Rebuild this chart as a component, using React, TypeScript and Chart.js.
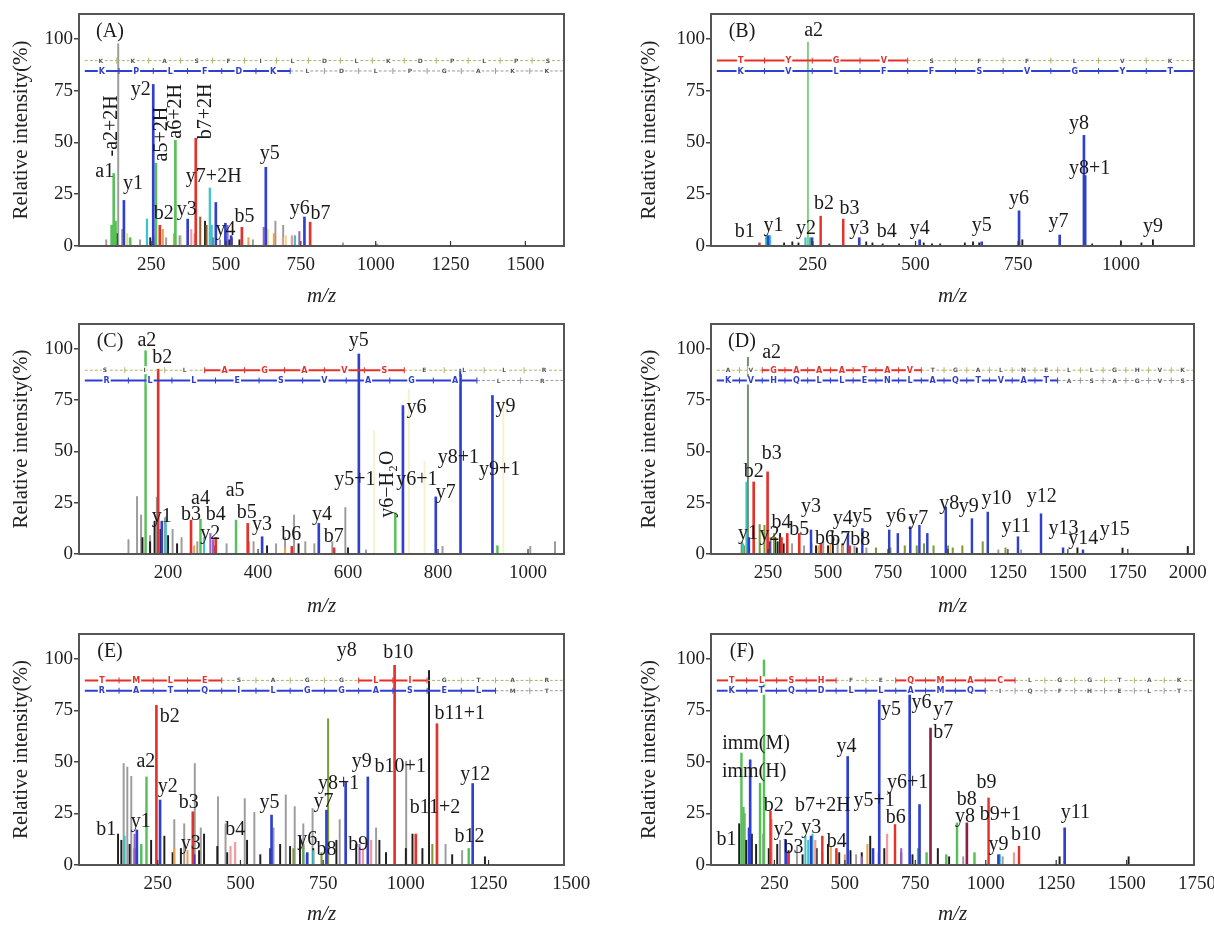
import React, { useEffect, useRef } from 'react';
import { Chart, registerables } from 'chart.js';
Chart.register(...registerables);

type Pk = [number, number];
type Lb = { t: string; x: number; y: number; r?: boolean };

const SERIF = '"Liberation Serif", "Times New Roman", serif';

const GREEN = '#58c058', RED = '#e4322b', BLUE = '#2f3fcf', BLACK = '#1e1e1e', GRAY = '#9c9c9c';
const CYAN = '#3cc4c8', PINK = '#f29a9a', ORANGE = '#e9a24f', BROWN = '#9a5a2a', PURPLE = '#9a62c2';
const YELLOW = '#e6e07a', PALE = '#f5f2cc', OLIVE = '#7f9a3a', MAROON = '#8c1f45', LGREEN = '#7fd27f';

const Y_TICKS = [0, 25, 50, 75, 100];

// ---------------- Panel A ----------------
const A_ticks = [250, 500, 750, 1000, 1250, 1500];
const A_a: Pk[] = [[118, 10], [125, 35], [131, 12], [266, 40], [331, 51], [180, 4]];
const A_b: Pk[] = [[279, 10], [399, 52], [553, 9], [781, 11.5]];
const A_y: Pk[] = [[159, 22], [257, 78], [372, 13], [466, 21], [498, 11], [517, 5], [633, 38], [762, 14]];
const A_cyan: Pk[] = [[236, 13], [446, 28], [452, 10], [730, 5]];
const A_gray: Pk[] = [[140, 97.6], [100, 3], [153, 8], [213, 3], [300, 4], [345, 5], [480, 3], [590, 3], [665, 12], [691, 10], [720, 4], [891, 1.5], [1005, 1]];
const A_black: Pk[] = [[135, 6], [247, 4], [257, 5], [430, 12], [455, 4], [510, 3], [545, 3]];
const A_orange: Pk[] = [[289, 8], [326, 6], [575, 4], [660, 6]];
const A_brown: Pk[] = [[414, 14], [435, 10], [520, 4]];
const A_yellow: Pk[] = [[170, 6], [350, 5], [640, 8], [700, 5]];
const A_pink: Pk[] = [[384, 8], [395, 6], [690, 4], [720, 5]];
const A_purple: Pk[] = [[505, 10], [626, 9], [745, 7]];
const A_labels: Lb[] = [
  { t: 'a1', x: 95, y: 35.8 }, { t: '-a2+2H', x: 118, y: 58, r: true }, { t: 'y1', x: 189, y: 30 },
  { t: 'y2', x: 215, y: 75.5 }, { t: 'a5+2H', x: 286, y: 54, r: true }, { t: 'a6+2H', x: 331, y: 65, r: true },
  { t: 'b7+2H', x: 434, y: 65, r: true }, { t: 'y7+2H', x: 459, y: 33.4 }, { t: 'b2', x: 292, y: 15.7 },
  { t: 'y3', x: 369, y: 17.3 }, { t: 'y4', x: 498, y: 7.7 }, { t: 'b5', x: 562, y: 14.1 },
  { t: 'y5', x: 646, y: 44.6 }, { t: 'y6', x: 746, y: 18.1 }, { t: 'b7', x: 816, y: 15.7 },
];
const A_seqTop = 'KKASFILDLKDPLPS', A_maskTop = '000000000000000';
const A_seqBot = 'KPLFDKLDLPGAKK', A_maskBot = '11111100000000';

// ---------------- Panel B ----------------
const B_ticks = [250, 500, 750, 1000];
const B_a: Pk[] = [[238, 98.4]];
const B_b: Pk[] = [[269, 14.4], [324, 13], [120, 1.5]];
const B_y: Pk[] = [[141, 5], [248, 4], [363, 4], [510, 3], [661, 2], [752, 17], [851, 5.3], [910, 53.4], [913, 34]];
const B_cyan: Pk[] = [[136, 5], [146, 5], [232, 4], [243, 4]];
const B_black: Pk[] = [[180, 1.5], [200, 2], [215, 1.5], [290, 1], [380, 2], [395, 1.5], [420, 1], [460, 1], [520, 1.5], [540, 1], [560, 1], [620, 1.5], [640, 2], [655, 1.5], [760, 3], [930, 1], [1000, 2.5], [1050, 1.5], [1078, 3]];
const B_labels: Lb[] = [
  { t: 'a2', x: 252, y: 104 }, { t: 'b1', x: 84, y: 7 }, { t: 'y1', x: 154, y: 10 }, { t: 'y2', x: 233, y: 8.5 },
  { t: 'b2', x: 277, y: 20.5 }, { t: 'b3', x: 339, y: 18 }, { t: 'y3', x: 363, y: 8.5 }, { t: 'b4', x: 430, y: 7 },
  { t: 'y4', x: 510, y: 8.5 }, { t: 'y5', x: 661, y: 10 }, { t: 'y6', x: 752, y: 23 }, { t: 'y7', x: 848, y: 11.7 },
  { t: 'y8', x: 898, y: 59 }, { t: 'y8+1', x: 924, y: 37.4 }, { t: 'y9', x: 1078, y: 9.3 },
];
const B_seqTop = 'TYGVSFFLVK', B_maskTop = '1111000000';
const B_seqBot = 'KVLFFSVGYT', B_maskBot = '1111111111';

// ---------------- Panel C ----------------
const C_ticks = [200, 400, 600, 800, 1000];
const C_a: Pk[] = [[150, 99], [272, 17], [351, 16.5], [705, 20], [932, 4]];
const C_b: Pk[] = [[178, 90], [251, 16.5], [306, 8], [377, 14.9], [475, 3.7], [569, 3]];
const C_y: Pk[] = [[186, 16], [409, 8.4], [535, 14.9], [624, 97.4], [722, 72.3], [795, 27.8], [850, 90], [921, 77.2]];
const C_purple: Pk[] = [[294, 10], [300, 7]];
const C_gray: Pk[] = [[112, 7], [131, 28], [140, 19], [160, 9], [175, 27.7], [193, 17.6], [210, 12], [230, 8], [265, 6], [330, 5], [390, 6], [440, 5], [460, 8], [480, 19], [505, 6], [525, 5], [565, 6], [594, 22.6], [640, 2], [810, 3.7], [1005, 3.7], [1060, 6]];
const C_black: Pk[] = [[143, 8], [160, 6], [170, 16], [183, 12], [200, 9], [220, 5], [305, 4], [420, 4], [490, 5], [600, 3]];
const C_pale: Pk[] = [[658, 60], [735, 80], [770, 45], [945, 75]];
const C_orange: Pk[] = [[258, 4], [380, 6], [460, 3]];
const C_cyan: Pk[] = [[195, 18], [280, 8]];
const C_labels: Lb[] = [
  { t: 'a2', x: 153, y: 104 }, { t: 'b2', x: 187, y: 95.5 }, { t: 'y5', x: 624, y: 104 }, { t: 'y6', x: 752, y: 71 },
  { t: 'y9', x: 950, y: 71.5 }, { t: 'y8+1', x: 845, y: 47 }, { t: 'y9+1', x: 937, y: 41 }, { t: 'y7', x: 817, y: 30 },
  { t: 'y5+1', x: 615, y: 36 }, { t: 'y6\u2212H\u2082O', x: 688, y: 34, r: true }, { t: 'y6+1', x: 753, y: 36 },
  { t: 'y1', x: 186, y: 18 }, { t: 'b3', x: 251, y: 19 }, { t: 'y2', x: 294, y: 10 }, { t: 'a4', x: 272, y: 27 },
  { t: 'b4', x: 306, y: 19 }, { t: 'a5', x: 349, y: 31 }, { t: 'b5', x: 375, y: 20 }, { t: 'y3', x: 409, y: 14.4 },
  { t: 'b6', x: 474, y: 9.2 }, { t: 'y4', x: 542, y: 19 }, { t: 'b7', x: 568, y: 8.4 },
];
const C_seqTop = 'SILAGAVSELLR', C_maskTop = '000111110000';
const C_seqBot = 'RLLESVAGALR', C_maskBot = '11111111100';

// ---------------- Panel D ----------------
const D_ticks = [250, 500, 750, 1000, 1250, 1500, 1750, 2000];
const D_tall: Pk[] = [[166, 95.8]];
const D_green: Pk[] = [[215, 14.4], [140, 6], [150, 4], [235, 14], [260, 8], [275, 10], [700, 3], [760, 3], [820, 4], [870, 4], [900, 5], [940, 4], [1000, 4], [1020, 3], [1060, 4], [1145, 6], [1240, 3]];
const D_b: Pk[] = [[190, 35.1], [248, 40], [306, 8], [330, 10], [380, 10], [470, 5], [590, 4]];
const D_y: Pk[] = [[170, 8], [256, 6], [429, 11.7], [583, 10], [643, 12.4], [755, 11.7], [791, 10], [843, 13.3], [881, 14], [914, 10], [991, 22.9], [1100, 17.2], [1166, 20.4], [1292, 8.4], [1388, 19.6], [1480, 3], [1563, 2]];
const D_black: Pk[] = [[280, 8], [290, 6], [300, 10], [315, 5], [430, 5], [450, 4], [500, 4], [520, 6], [560, 5], [620, 3], [700, 2], [1540, 3], [1728, 2.9], [2000, 3.7]];
const D_gray: Pk[] = [[350, 5], [400, 4], [480, 6], [540, 7], [610, 4], [660, 3], [1210, 2], [1305, 2]];
const D_cyan: Pk[] = [[160, 35], [145, 5]];
const D_orange: Pk[] = [[460, 4], [510, 5], [560, 4]];
const D_labels: Lb[] = [
  { t: 'a2', x: 265, y: 98 }, { t: 'b2', x: 190, y: 40 }, { t: 'b3', x: 265, y: 49 }, { t: 'y1', x: 166, y: 10 },
  { t: 'y2', x: 256, y: 9.2 }, { t: 'b4', x: 306, y: 15 }, { t: 'b5', x: 380, y: 11.7 }, { t: 'y3', x: 429, y: 23 },
  { t: 'b6', x: 487, y: 7.6 }, { t: 'y4', x: 561, y: 17.3 }, { t: 'b7b8', x: 593, y: 6.8 }, { t: 'y5', x: 643, y: 18 },
  { t: 'y6', x: 783, y: 18 }, { t: 'y7', x: 876, y: 17.3 }, { t: 'y8', x: 1005, y: 24.6 }, { t: 'y9', x: 1087, y: 22.9 },
  { t: 'y10', x: 1202, y: 27 }, { t: 'y11', x: 1284, y: 13.3 }, { t: 'y12', x: 1391, y: 27.8 }, { t: 'y13', x: 1482, y: 12.4 },
  { t: 'y14', x: 1564, y: 7.6 }, { t: 'y15', x: 1696, y: 11.7 },
];
const D_seqTop = 'AVGAAATAVTGALNELLGHVK', D_maskTop = '001111111000000000000';
const D_seqBot = 'KVHQLLENLAQTVATASAGVS', D_maskBot = '111111111111111000000';

// ---------------- Panel E ----------------
const E_ticks = [250, 500, 750, 1000, 1250, 1500];
const E_a: Pk[] = [[216, 42.7], [200, 10], [1190, 8]];
const E_olive: Pk[] = [[765, 70.9], [660, 8], [690, 10], [745, 6], [1080, 10]];
const E_b: Pk[] = [[246, 77.4], [356, 25.8], [966, 96.8], [1094, 68.5], [1030, 15]];
const E_y: Pk[] = [[187, 17], [257, 31.5], [360, 5], [594, 24.2], [702, 6], [760, 26.6], [818, 40], [885, 42.7], [1202, 39.5]];
const E_black: Pk[] = [[1070, 94.3], [130, 15], [140, 12], [165, 10], [180, 8], [230, 12], [270, 14], [295, 6], [320, 8], [375, 7], [390, 15], [430, 9], [460, 6], [520, 12], [560, 5], [590, 8], [620, 10], [650, 9], [680, 14], [720, 8], [790, 12], [850, 10], [920, 12], [940, 6], [1000, 8], [1020, 15], [1050, 8], [1140, 5], [1239, 4]];
const E_gray: Pk[] = [[147, 49.2], [158, 47.5], [170, 43], [300, 22], [330, 20], [362, 49.2], [380, 18], [432, 33.1], [455, 20], [513, 32.2], [542, 25.5], [600, 18], [637, 34], [664, 28.3], [690, 20], [718, 27.4], [800, 22], [910, 18], [1001, 50.3], [1120, 10], [1170, 7]];
const E_pink: Pk[] = [[484, 11], [470, 9], [870, 8], [895, 12]];
const E_purple: Pk[] = [[180, 15], [860, 10]];
const E_orange: Pk[] = [[300, 8], [340, 7], [700, 5]];
const E_cyan: Pk[] = [[150, 14], [200, 9], [690, 9], [720, 7]];
const E_labels: Lb[] = [
  { t: 'y8', x: 821, y: 104 }, { t: 'b10', x: 977, y: 103 }, { t: 'b11+1', x: 1163, y: 73.4 }, { t: 'b2', x: 286, y: 72 },
  { t: 'a2', x: 214, y: 50 }, { t: 'y2', x: 280, y: 38 }, { t: 'b3', x: 344, y: 30 }, { t: 'y1', x: 199, y: 21 },
  { t: 'b1', x: 94, y: 17 }, { t: 'y3', x: 350, y: 10.5 }, { t: 'b4', x: 484, y: 17 }, { t: 'y5', x: 588, y: 30 },
  { t: 'y6', x: 702, y: 12.4 }, { t: 'b8', x: 760, y: 7.3 }, { t: 'b9', x: 856, y: 9.7 }, { t: 'y7', x: 751, y: 30.7 },
  { t: 'y8+1', x: 797, y: 39.5 }, { t: 'y9', x: 867, y: 50 }, { t: 'b10+1', x: 983, y: 47.5 }, { t: 'y12', x: 1210, y: 43.6 },
  { t: 'b11+2', x: 1088, y: 27.6 }, { t: 'b12', x: 1192, y: 13.7 },
];
const E_seqTop = 'TMLESAGGLIGTAR', E_maskTop = '11110000110000';
const E_seqBot = 'RATQILGGASELMT', E_maskBot = '11111111111100';

// ---------------- Panel F ----------------
const F_ticks = [250, 500, 750, 1000, 1250, 1500, 1750];
const F_a: Pk[] = [[133, 54.3], [213, 99.4], [199, 39.7], [140, 28], [898, 20.4], [760, 8], [790, 6], [860, 5], [960, 6]];
const F_b: Pk[] = [[236, 26.1], [678, 19.6], [1010, 32.5], [1118, 9.1], [420, 14], [470, 8], [300, 6]];
const F_maroon: Pk[] = [[804, 66.4], [933, 20.4]];
const F_y: Pk[] = [[164, 51], [160, 18], [290, 12], [380, 14], [510, 52.6], [622, 80], [730, 85.7], [765, 29.3], [1280, 18], [600, 8], [1045, 5]];
const F_black: Pk[] = [[125, 20], [150, 12], [170, 15], [185, 10], [230, 8], [260, 10], [300, 7], [350, 5], [400, 8], [440, 10], [480, 6], [520, 7], [560, 6], [590, 14], [640, 8], [700, 6], [740, 5], [830, 8], [870, 4], [1262, 4], [1507, 4]];
const F_gray: Pk[] = [[145, 25], [210, 15], [270, 12], [330, 9], [420, 6], [540, 5], [620, 6], [760, 5], [920, 4], [1060, 4]];
const F_pink: Pk[] = [[240, 22], [395, 12], [650, 15], [1100, 6]];
const F_cyan: Pk[] = [[360, 14], [370, 12], [385, 15], [1050, 5]];
const F_orange: Pk[] = [[450, 9], [470, 7], [500, 5], [580, 10]];
const F_purple: Pk[] = [[560, 4], [700, 8]];
const F_labels: Lb[] = [
  { t: 'imm(M)', x: 185, y: 59 }, { t: 'imm(H)', x: 178, y: 45.4 }, { t: 'b1', x: 80, y: 12.3 }, { t: 'b2', x: 248, y: 28.5 },
  { t: 'b7+2H', x: 422, y: 28.5 }, { t: 'y2', x: 283, y: 17.2 }, { t: 'y3', x: 381, y: 18 }, { t: 'b3', x: 318, y: 8.3 },
  { t: 'b4', x: 471, y: 11.5 }, { t: 'y4', x: 506, y: 57.5 }, { t: 'y5', x: 664, y: 75.2 }, { t: 'y5+1', x: 604, y: 31.2 },
  { t: 'y6', x: 772, y: 78.5 }, { t: 'y7', x: 849, y: 75.2 }, { t: 'b7', x: 849, y: 64 }, { t: 'y6+1', x: 723, y: 39.8 },
  { t: 'b6', x: 681, y: 23 }, { t: 'b8', x: 933, y: 31.7 }, { t: 'y8', x: 926, y: 23.6 }, { t: 'b9', x: 1003, y: 39.8 },
  { t: 'b9+1', x: 1052, y: 24.2 }, { t: 'y9', x: 1045, y: 10 }, { t: 'b10', x: 1143, y: 14.8 }, { t: 'y11', x: 1318, y: 25.3 },
];
const F_seqTop = 'TLSHFEQMACLGGTAK', F_maskTop = '1111001111000000';
const F_seqBot = 'KTQDLLAMQIQFHELT', F_maskBot = '1111111110000000';

// ---------------- configuration ----------------
type Grp = { d: Pk[]; c: string; w: number };
type Panel = {
  tag: string; col: number; row: number; xMin: number; xMax: number; ticks: number[];
  groups: Grp[]; labels: Lb[]; seqTop: string; maskTop: string; seqBot: string; maskBot: string;
};

const PANELS: Panel[] = [
  {
    tag: '(A)', col: 0, row: 0, xMin: 9, xMax: 1629, ticks: A_ticks,
    groups: [{ d: A_b, c: RED, w: 2 }, { d: A_y, c: BLUE, w: 2 }, { d: A_a, c: GREEN, w: 2 }, { d: A_cyan, c: CYAN, w: 1.6 },
      { d: A_purple, c: PURPLE, w: 1.4 }, { d: A_brown, c: BROWN, w: 1.4 }, { d: A_orange, c: ORANGE, w: 1.4 },
      { d: A_pink, c: PINK, w: 1.4 }, { d: A_black, c: BLACK, w: 1.3 }, { d: A_gray, c: GRAY, w: 1.3 }, { d: A_yellow, c: YELLOW, w: 1.3 }],
    labels: A_labels, seqTop: A_seqTop, maskTop: A_maskTop, seqBot: A_seqBot, maskBot: A_maskBot,
  },
  {
    tag: '(B)', col: 1, row: 0, xMin: 2, xMax: 1178, ticks: B_ticks,
    groups: [{ d: B_b, c: RED, w: 1.8 }, { d: B_y, c: BLUE, w: 2 }, { d: B_a, c: LGREEN, w: 1.3 }, { d: B_cyan, c: CYAN, w: 1.5 },
      { d: B_black, c: BLACK, w: 1.2 }],
    labels: B_labels, seqTop: B_seqTop, maskTop: B_maskTop, seqBot: B_seqBot, maskBot: B_maskBot,
  },
  {
    tag: '(C)', col: 0, row: 1, xMin: 2, xMax: 1080, ticks: C_ticks,
    groups: [{ d: C_b, c: RED, w: 2 }, { d: C_y, c: BLUE, w: 2 }, { d: C_a, c: GREEN, w: 1.8 }, { d: C_purple, c: PURPLE, w: 1.5 },
      { d: C_cyan, c: CYAN, w: 1.4 }, { d: C_orange, c: ORANGE, w: 1.4 }, { d: C_black, c: BLACK, w: 1.3 },
      { d: C_gray, c: GRAY, w: 1.3 }, { d: C_pale, c: PALE, w: 1.3 }],
    labels: C_labels, seqTop: C_seqTop, maskTop: C_maskTop, seqBot: C_seqBot, maskBot: C_maskBot,
  },
  {
    tag: '(D)', col: 1, row: 1, xMin: 12, xMax: 2026, ticks: D_ticks,
    groups: [{ d: D_b, c: RED, w: 2 }, { d: D_y, c: BLUE, w: 1.8 }, { d: D_tall, c: '#6f8f6f', w: 1.3 }, { d: D_cyan, c: CYAN, w: 1.5 },
      { d: D_green, c: OLIVE, w: 1.4 }, { d: D_orange, c: ORANGE, w: 1.3 }, { d: D_black, c: BLACK, w: 1.3 }, { d: D_gray, c: GRAY, w: 1.3 }],
    labels: D_labels, seqTop: D_seqTop, maskTop: D_maskTop, seqBot: D_seqBot, maskBot: D_maskBot,
  },
  {
    tag: '(E)', col: 0, row: 2, xMin: 12, xMax: 1478, ticks: E_ticks,
    groups: [{ d: E_b, c: RED, w: 2 }, { d: E_y, c: BLUE, w: 2 }, { d: E_a, c: GREEN, w: 1.8 }, { d: E_olive, c: OLIVE, w: 1.4 },
      { d: E_pink, c: PINK, w: 1.5 }, { d: E_purple, c: PURPLE, w: 1.4 }, { d: E_cyan, c: CYAN, w: 1.4 }, { d: E_orange, c: ORANGE, w: 1.4 },
      { d: E_black, c: BLACK, w: 1.3 }, { d: E_gray, c: GRAY, w: 1.3 }],
    labels: E_labels, seqTop: E_seqTop, maskTop: E_maskTop, seqBot: E_seqBot, maskBot: E_maskBot,
  },
  {
    tag: '(F)', col: 1, row: 2, xMin: 25, xMax: 1739, ticks: F_ticks,
    groups: [{ d: F_maroon, c: MAROON, w: 2 }, { d: F_b, c: RED, w: 1.8 }, { d: F_y, c: BLUE, w: 2 }, { d: F_a, c: GREEN, w: 1.8 },
      { d: F_pink, c: PINK, w: 1.5 }, { d: F_cyan, c: CYAN, w: 1.4 }, { d: F_orange, c: ORANGE, w: 1.4 }, { d: F_purple, c: PURPLE, w: 1.4 },
      { d: F_black, c: BLACK, w: 1.3 }, { d: F_gray, c: GRAY, w: 1.3 }],
    labels: F_labels, seqTop: F_seqTop, maskTop: F_maskTop, seqBot: F_seqBot, maskBot: F_maskBot,
  },
];

function drawSeq(ctx: CanvasRenderingContext2D, xs: any, ys: any, seq: string, mask: string, val: number, on: string, off: string) {
  const n = seq.length;
  const lo = xs.min + (xs.max - xs.min) * 0.012;
  const hi = xs.max;
  const px = (k: number) => xs.getPixelForValue(lo + ((hi - lo) * k) / n);
  const py = ys.getPixelForValue(val);
  for (let i = 0; i < n; i++) {
    const m = mask[i] === '1';
    ctx.save();
    ctx.beginPath();
    ctx.strokeStyle = m ? on : off;
    ctx.lineWidth = m ? 2 : 1;
    ctx.setLineDash(m ? [] : [3, 2]);
    ctx.moveTo(px(i), py);
    ctx.lineTo(px(i + 1), py);
    ctx.stroke();
    ctx.restore();
  }
  for (let i = 1; i < n; i++) {
    const m = mask[i - 1] === '1' || mask[i] === '1';
    ctx.beginPath();
    ctx.strokeStyle = m ? on : off;
    ctx.lineWidth = 1;
    ctx.moveTo(px(i), py - 3);
    ctx.lineTo(px(i), py + 3);
    ctx.stroke();
  }
  ctx.textAlign = 'center';
  ctx.textBaseline = 'middle';
  for (let i = 0; i < n; i++) {
    const m = mask[i] === '1';
    ctx.font = m ? 'bold 8px "DejaVu Sans"' : 'bold 6px "DejaVu Sans"';
    const cx = px(i + 0.5);
    const w = ctx.measureText(seq[i]).width + 2;
    ctx.fillStyle = '#fff';
    ctx.fillRect(cx - w / 2, py - 4, w, 8);
    ctx.fillStyle = m ? on : '#555';
    ctx.fillText(seq[i], cx, py + 0.5);
  }
}

function makeAnnot(p: Panel) {
  return {
    id: 'msAnnot',
    afterDatasetsDraw(chart: any) {
      const { ctx, chartArea: ca } = chart;
      const xs = chart.scales.x, ys = chart.scales.y;
      ctx.save();
      drawSeq(ctx, xs, ys, p.seqTop, p.maskTop, 89.5, RED, '#b3b36a');
      drawSeq(ctx, xs, ys, p.seqBot, p.maskBot, 84.5, BLUE, '#999');
      ctx.fillStyle = '#1a1a1a';
      ctx.font = `20px ${SERIF}`;
      ctx.textAlign = 'center';
      ctx.textBaseline = 'middle';
      for (const l of p.labels) {
        const lx = xs.getPixelForValue(l.x), ly = ys.getPixelForValue(l.y);
        if (l.r) {
          ctx.save();
          ctx.translate(lx, ly);
          ctx.rotate(-Math.PI / 2);
          ctx.fillText(l.t, 0, 0);
          ctx.restore();
        } else {
          ctx.fillText(l.t, lx, ly);
        }
      }
      ctx.fillText(p.tag, ca.left + 31, ca.top + 18);
      ctx.strokeStyle = '#555';
      ctx.lineWidth = 2;
      ctx.strokeRect(ca.left, ca.top, ca.right - ca.left, ca.bottom - ca.top);
      ctx.strokeStyle = '#333';
      ctx.lineWidth = 1.2;
      for (const t of xs.ticks) {
        const tx = xs.getPixelForValue(t.value);
        if (tx <= ca.left || tx >= ca.right) continue;
        ctx.beginPath();
        ctx.moveTo(tx, ca.bottom);
        ctx.lineTo(tx, ca.bottom - 5);
        ctx.stroke();
      }
      ctx.restore();
    },
  };
}

function buildConfig(p: Panel): any {
  const yw = p.col === 0 ? 79 : 104;
  const rp = p.col === 0 ? 43 : 20;
  const h = p.row === 2 ? 307 : 310;
  const bottom = p.row === 0 ? 246 : p.row === 1 ? 244 : 245;
  const xh = h - bottom;
  const tickFont = { family: SERIF, size: 19 };
  return {
    type: 'bar',
    data: {
      datasets: p.groups.map((g) => ({
        data: g.d.map(([x, y]) => ({ x, y })),
        backgroundColor: g.c,
        barThickness: g.w,
        borderWidth: 0,
        stack: 's',
        grouped: true,
      })),
    },
    options: {
      animation: false,
      responsive: false,
      events: [],
      layout: { padding: { top: 14, right: rp, left: 0, bottom: 0 } },
      plugins: { legend: { display: false }, tooltip: { enabled: false } },
      scales: {
        x: {
          type: 'linear', min: p.xMin, max: p.xMax, offset: false, stacked: true,
          grid: { display: false, drawTicks: false, offset: false },
          border: { display: false },
          ticks: {
            autoSkip: false, maxRotation: 0, minRotation: 0,
            padding: 8, font: tickFont, color: '#222', callback: (v: any) => String(v),
          },
          title: { display: true, text: 'm/z', color: '#222', font: { family: SERIF, size: 21, style: 'italic' }, padding: { top: 0, bottom: p.row === 2 ? 0 : 1 } },
          afterBuildTicks: (s: any) => { s.ticks = p.ticks.map((v) => ({ value: v })); },
          afterFit: (s: any) => { s.height = xh; s.paddingLeft = 0; s.paddingRight = 0; },
        },
        y: {
          type: 'linear', min: 0, max: 112, stacked: false,
          grid: { display: true, drawOnChartArea: false, drawTicks: true, tickLength: 5, color: '#444', lineWidth: 1.5 },
          border: { display: false },
          ticks: { padding: 1, font: tickFont, color: '#222', callback: (v: any) => String(v) },
          title: { display: true, text: 'Relative intensity(%)', color: '#222', font: { family: SERIF, size: 21 }, padding: { top: p.col === 0 ? 9 : 30, bottom: 0 } },
          afterBuildTicks: (s: any) => { s.ticks = Y_TICKS.map((v) => ({ value: v })); },
          afterFit: (s: any) => { s.width = yw; s.paddingTop = 0; s.paddingBottom = 0; },
        },
      },
    },
    plugins: [makeAnnot(p)],
  };
}

function PanelChart({ p }: { p: Panel }) {
  const ref = useRef<HTMLCanvasElement>(null);
  const h = p.row === 2 ? 307 : 310;
  useEffect(() => {
    if (!ref.current) return;
    const chart = new Chart(ref.current, buildConfig(p));
    return () => chart.destroy();
  }, [p]);
  return (
    <div style={{ position: 'absolute', left: p.col * 607, top: p.row * 310, width: 607, height: h }}>
      <canvas ref={ref} width={607} height={h} style={{ width: 607, height: h, display: 'block' }} />
    </div>
  );
}

export default function App() {
  return (
    <div style={{ position: 'absolute', left: 0, top: 0, width: 1214, height: 927, background: '#fff', overflow: 'hidden' }}>
      {PANELS.map((p) => (
        <PanelChart key={p.tag} p={p} />
      ))}
    </div>
  );
}
